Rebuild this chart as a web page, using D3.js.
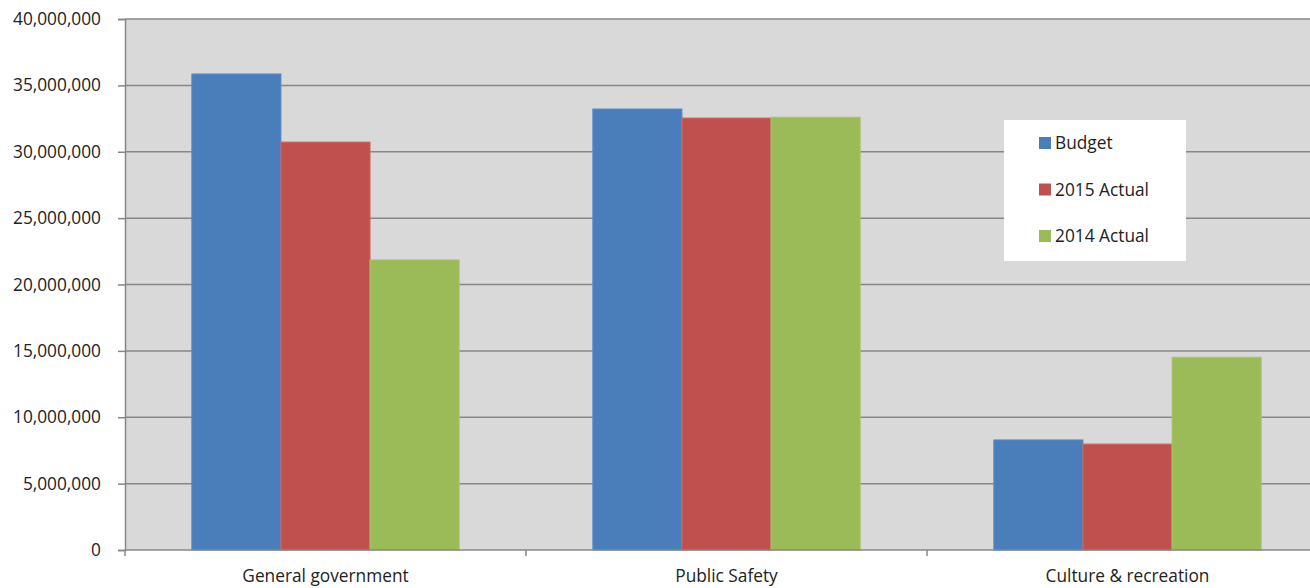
<!DOCTYPE html>
<html>
<head>
<meta charset="utf-8">
<script src="https://cdn.jsdelivr.net/npm/d3@7"></script>
<style>
body { margin: 0; background: #fff; }
text { font-family: "Open Sans", "Noto Sans", sans-serif; fill: #222; }
</style>
</head>
<body>
<div id="main"></div>
<script>
var categories = ["General government", "Public Safety", "Culture & recreation"];
var seriesNames = ["Budget", "2015 Actual", "2014 Actual"];
var budget = [35860000, 33220000, 8290000];
var actual2015 = [30730000, 32540000, 7980000];
var actual2014 = [21850000, 32600000, 14520000];
var yTicks = [0, 5000000, 10000000, 15000000, 20000000, 25000000, 30000000, 35000000, 40000000];

var ctx = {
    w: 1310,
    h: 588,
    left: 125,
    right: 1328,
    top: 19,
    bottom: 550,
    fontSize: "17.3px",
    colors: ["#4a7ebb", "#c0504d", "#9bbb59"],
    strokes: ["#5a8cc6", "#cc6a67", "#a9c56e"]
};

var createViz = function(){
    var series = [budget, actual2015, actual2014];
    var svg = d3.select("#main").append("svg")
        .attr("width", ctx.w)
        .attr("height", ctx.h);

    var x0 = d3.scaleBand().domain(categories)
        .range([ctx.left, ctx.right]);
    var x1 = d3.scaleBand().domain(seriesNames)
        .range([0, x0.bandwidth()]).paddingOuter(0.75);
    var y = d3.scaleLinear().domain([0, 40000000])
        .range([ctx.bottom, ctx.top]);

    // plot background
    svg.append("rect")
        .attr("x", ctx.left).attr("y", ctx.top)
        .attr("width", ctx.right - ctx.left).attr("height", ctx.bottom - ctx.top)
        .style("fill", "#d9d9d9");

    // gridlines
    svg.append("g").selectAll("line")
        .data(yTicks.slice(1))
        .enter().append("line")
        .attr("x1", ctx.left).attr("x2", ctx.right)
        .attr("y1", function(d){ return y(d); })
        .attr("y2", function(d){ return y(d); })
        .style("stroke", "#878787").style("stroke-width", 1.5);

    // bars
    var groups = svg.append("g").selectAll("g")
        .data(categories)
        .enter().append("g")
        .attr("transform", function(d){ return "translate(" + x0(d) + ",0)"; });
    groups.selectAll("rect")
        .data(function(d, i){ return seriesNames.map(function(s, j){ return {s: s, j: j, v: series[j][i]}; }); })
        .enter().append("rect")
        .attr("x", function(d){ return x1(d.s); })
        .attr("width", x1.bandwidth())
        .attr("y", function(d){ return y(d.v); })
        .attr("height", function(d){ return y(0) - y(d.v); })
        .style("fill", function(d){ return ctx.colors[d.j]; })
        .style("stroke", function(d){ return ctx.strokes[d.j]; })
        .style("stroke-width", 1);

    // y axis
    var yAxis = svg.append("g")
        .attr("transform", "translate(" + ctx.left + ",0)")
        .call(d3.axisLeft(y).tickValues(yTicks).tickSize(7).tickPadding(17)
            .tickFormat(d3.format(",")));
    yAxis.select(".domain").style("stroke", "#878787").style("stroke-width", 1.5);
    yAxis.selectAll(".tick line").style("stroke", "#878787").style("stroke-width", 1.5);
    yAxis.selectAll("text").style("font-size", ctx.fontSize).style("fill", "#222");

    // x axis
    var xAxis = svg.append("g")
        .attr("transform", "translate(0," + ctx.bottom + ")");
    xAxis.append("line")
        .attr("x1", ctx.left).attr("x2", ctx.right)
        .style("stroke", "#878787").style("stroke-width", 1.5);
    xAxis.selectAll(".sep")
        .data(categories)
        .enter().append("line")
        .attr("x1", function(d){ return x0(d); })
        .attr("x2", function(d){ return x0(d); })
        .attr("y1", 0).attr("y2", 6)
        .style("stroke", "#878787").style("stroke-width", 1.5);
    xAxis.selectAll(".lbl")
        .data(categories)
        .enter().append("text")
        .attr("x", function(d){ return x0(d) + x0.bandwidth() / 2; })
        .attr("y", 32)
        .style("text-anchor", "middle")
        .style("font-size", ctx.fontSize)
        .text(function(d){ return d; });

    // legend
    var leg = svg.append("g").attr("transform", "translate(1004,120)");
    leg.append("rect")
        .attr("width", 182).attr("height", 141)
        .style("fill", "#fff");
    var items = leg.selectAll(".item")
        .data(seriesNames)
        .enter().append("g")
        .attr("transform", function(d, i){ return "translate(35," + (17 + i * 46.5) + ")"; });
    items.append("rect")
        .attr("width", 12).attr("height", 12)
        .style("fill", function(d, i){ return ctx.colors[i]; });
    items.append("text")
        .attr("x", 16).attr("y", 12)
        .style("font-size", ctx.fontSize)
        .text(function(d){ return d; });
};

createViz();
</script>
</body>
</html>
